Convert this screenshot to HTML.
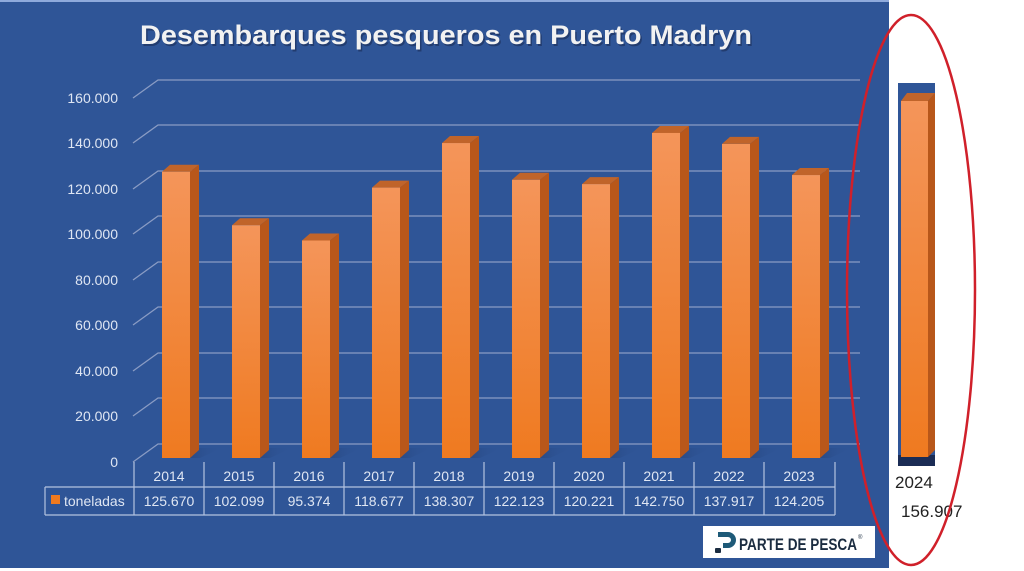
<!DOCTYPE html>
<html><head><meta charset="utf-8"><style>
html,body{margin:0;padding:0;background:#fff;}
svg{display:block;font-family:"Liberation Sans",sans-serif;}
</style></head><body>
<svg width="1024" height="571" viewBox="0 0 1024 571" xmlns="http://www.w3.org/2000/svg">
<defs>
<linearGradient id="fr" x1="0" y1="0" x2="0" y2="1"><stop offset="0" stop-color="#f4955a"/><stop offset="1" stop-color="#ef7a20"/></linearGradient>
<linearGradient id="sh" x1="0" y1="0" x2="1" y2="0"><stop offset="0" stop-color="#14254d" stop-opacity="0.8"/><stop offset="1" stop-color="#2f5597" stop-opacity="0"/></linearGradient>
</defs>
<rect x="0" y="0" width="889" height="568" fill="#2f5597"/>
<rect x="0" y="0" width="889" height="2" fill="#8faadc"/>
<text x="446" y="44" text-anchor="middle" font-size="27" font-weight="bold" fill="#1a2c55" textLength="612" lengthAdjust="spacingAndGlyphs" opacity="0.6" transform="translate(1.5,2)">Desembarques pesqueros en Puerto Madryn</text>
<text x="446" y="44" text-anchor="middle" font-size="27" font-weight="bold" fill="#f2f2f2" textLength="612" lengthAdjust="spacingAndGlyphs">Desembarques pesqueros en Puerto Madryn</text>
<g stroke="#8a9cc4" stroke-width="1.3" fill="none">
<path d="M133,462 L158,444 H860"/>
<path d="M133,416 L158,398 H860"/>
<path d="M133,371 L158,353 H860"/>
<path d="M133,325 L158,307 H860"/>
<path d="M133,280 L158,262 H860"/>
<path d="M133,234 L158,216 H860"/>
<path d="M133,189 L158,171 H860"/>
<path d="M133,143 L158,125 H860"/>
<path d="M133,98 L158,80 H860"/>
</g>
<g font-size="14" fill="#dfe6f3" text-anchor="end">
<text x="118" y="467">0</text><text x="118" y="421">20.000</text><text x="118" y="376">40.000</text><text x="118" y="330">60.000</text><text x="118" y="285">80.000</text><text x="118" y="239">100.000</text><text x="118" y="194">120.000</text><text x="118" y="148">140.000</text><text x="118" y="103">160.000</text>
</g>
<g id="bars"></g>
<g stroke="#b4c3e0" stroke-width="1.2" fill="none">
<path d="M134,462 V515 M45,487 H835 M45,515 H835 M45,487 V515 M835,462 V515"/>
<path d="M204,462V515M274,462V515M344,462V515M414,462V515M484,462V515M554,462V515M624,462V515M694,462V515M764,462V515"/>
</g>
<rect x="51" y="495" width="9" height="9" fill="#ef7a20"/>
<text x="64" y="506" font-size="14" fill="#dfe6f3">toneladas</text>
<g font-size="14" fill="#dfe6f3" text-anchor="middle" id="tbl"></g>
<rect x="898" y="83" width="37" height="383" fill="#2f5597"/>
<rect x="898" y="455" width="37" height="11" fill="#1b2c55"/>
<polygon points="901,101 907,93 935,93 928,101" fill="#c0642a"/>
<polygon points="928,101 935,93 935,450 928,457" fill="#b8571a"/>
<rect x="901" y="101" width="27" height="356" fill="url(#fr)"/>
<text x="895" y="488" font-size="17" fill="#222">2024</text>
<text x="901" y="517" font-size="17" fill="#222">156.907</text>
<ellipse cx="911" cy="290" rx="64" ry="275" fill="none" stroke="#d0202a" stroke-width="2.5"/>
<rect x="703" y="526" width="172" height="32" fill="#fff"/>
<path d="M718,532 h10 a8,8 0 0 1 0,16 h-5 v-5 h5 a3,3 0 0 0 0,-6 h-10z" fill="#1e5a78"/>
<rect x="715" y="548" width="6" height="5" rx="1" fill="#1b2c40"/>
<text x="739" y="550" font-size="17" font-weight="bold" fill="#1b2c40" textLength="118" lengthAdjust="spacingAndGlyphs">PARTE DE PESCA</text>
<text x="858" y="539" font-size="6" fill="#1b2c40">®</text>
<script>
(function(){
var v=[125670,102099,95374,118677,138307,122123,120221,142750,137917,124205];
var yr=[2014,2015,2016,2017,2018,2019,2020,2021,2022,2023];
var lab=["125.670","102.099","95.374","118.677","138.307","122.123","120.221","142.750","137.917","124.205"];
var ns="http://www.w3.org/2000/svg",g=document.getElementById('bars'),t=document.getElementById('tbl');
function el(p,n,a){var e=document.createElementNS(ns,n);for(var k in a)e.setAttribute(k,a[k]);p.appendChild(e);return e;}
for(var i=0;i<10;i++){var x=162+70*i,tp=457-v[i]*0.00227;
el(g,'polygon',{points:(x)+',458 '+(x+30)+',448 '+(x+60)+',448 '+(x+38)+',458',fill:'url(#sh)'});
el(g,'polygon',{points:x+','+tp+' '+(x+8)+','+(tp-7)+' '+(x+37)+','+(tp-7)+' '+(x+28)+','+tp,fill:'#c0642a'});
el(g,'polygon',{points:(x+28)+','+tp+' '+(x+37)+','+(tp-7)+' '+(x+37)+',450 '+(x+28)+',458',fill:'#b8571a'});
el(g,'rect',{x:x,y:tp,width:28,height:458-tp,fill:'url(#fr)'});
var c=169+70*i;
el(t,'text',{x:c,y:481}).textContent=yr[i];
el(t,'text',{x:c,y:506}).textContent=lab[i];}
})();
</script>
</svg>
</body></html>
